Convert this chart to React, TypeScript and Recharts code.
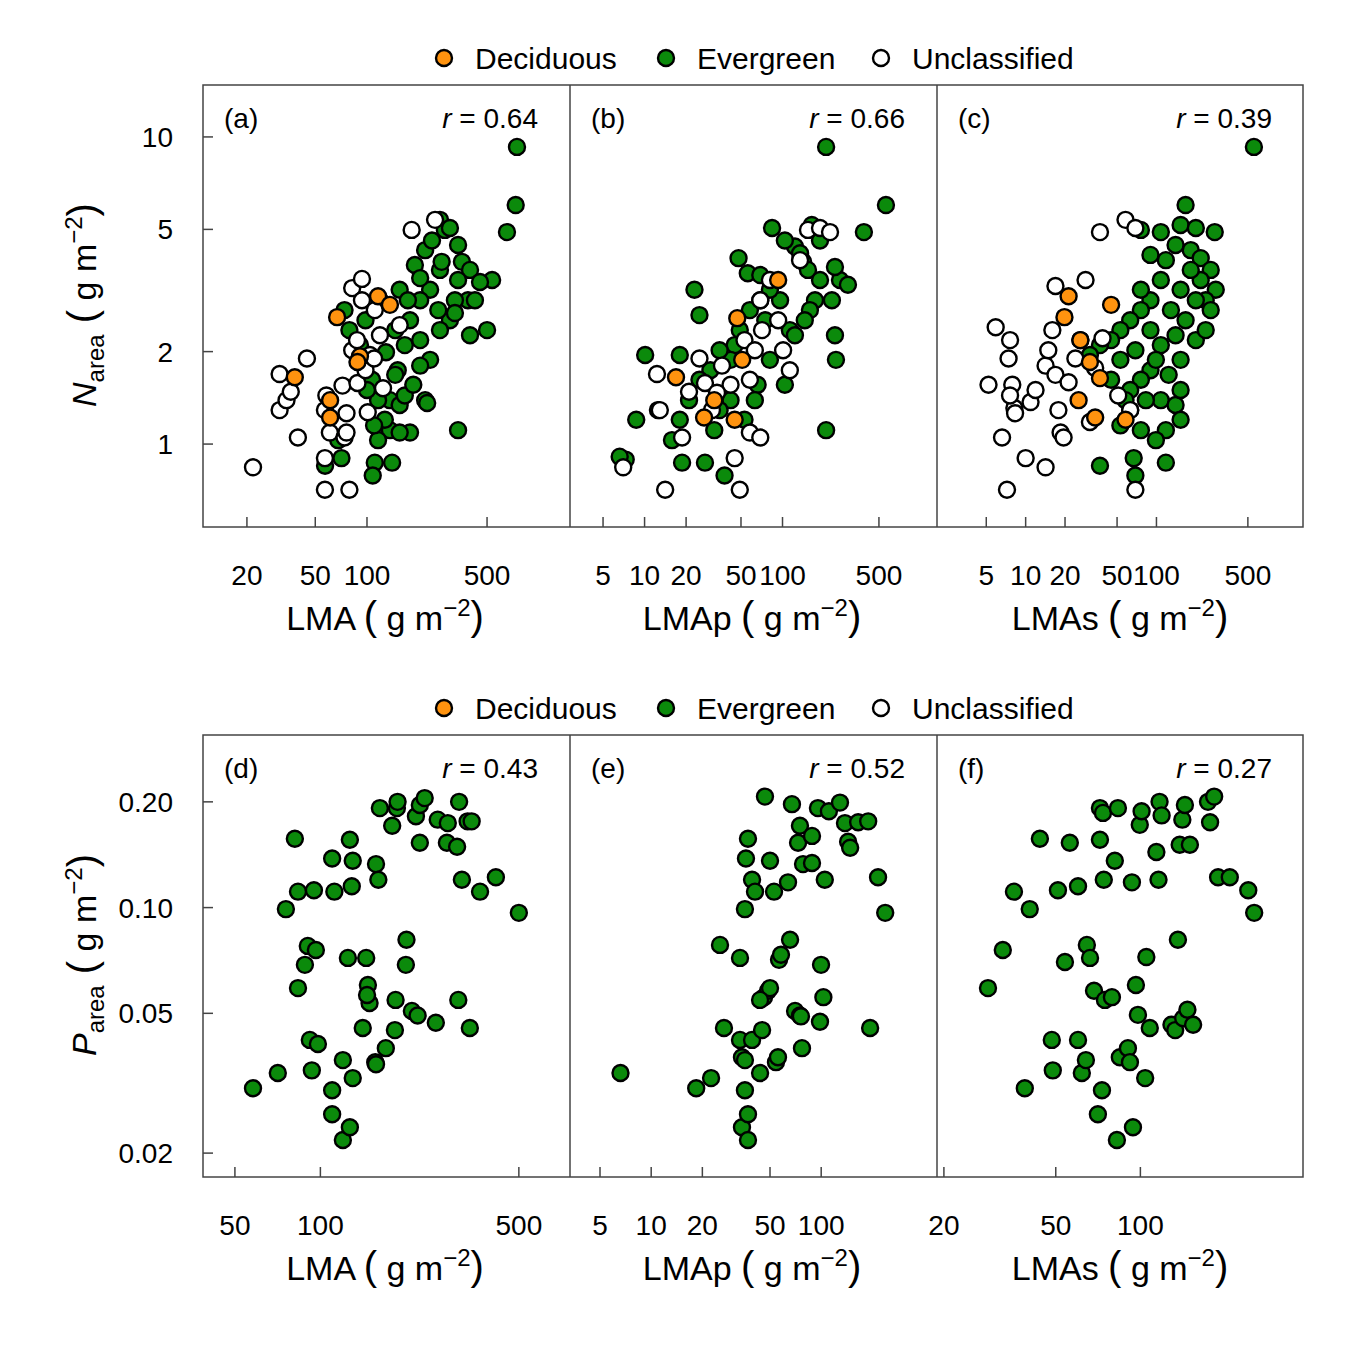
import React from "react"
import { ScatterChart, Scatter, XAxis, YAxis } from "recharts"

type P = [number, number]

// ---- top row: N area (y) vs LMA / LMAp / LMAs (x) ----
const aUnclassified: P[] = [[21.7,0.84],[31,1.69],[31,1.29],[34,1.39],[36,1.48],[39.6,1.05],[44.7,1.9],[56.9,1.29],[56.9,0.9],[56.9,0.71],[58,1.44],[60.8,1.09],[72,1.55],[74,1.05],[76,1.09],[76,1.26],[82,3.22],[82,2.02],[87.5,2.18],[88,1.58],[93.5,3.45],[93.5,2.94],[98,1.74],[101,1.27],[104,1.95],[110,1.9],[111,2.73],[119,2.26],[124,1.52],[155,2.44],[182,4.98],[249,5.37],[79,0.71]]
const aDeciduous: P[] = [[38,1.65],[61,1.39],[61,1.22],[67,2.59],[91,1.93],[116,3.03],[136,2.84],[88,1.85]]
const aEvergreen: P[] = [[747,9.28],[734,6.0],[653,4.9],[500,2.35],[535,3.42],[339,1.11],[218,1.39],[266,5.37],[284,4.98],[304,5.05],[339,4.45],[357,3.92],[398,3.69],[455,3.37],[387,2.94],[325,2.94],[304,2.53],[339,3.42],[266,3.69],[233,3.18],[218,4.28],[190,3.83],[204,2.94],[178,2.53],[155,3.18],[166,2.1],[151,1.74],[136,1.39],[136,1.11],[116,1.03],[111,0.87],[140,0.87],[127,1.2],[178,1.09],[155,1.34],[107,1.62],[93,1.88],[91,2.1],[98,2.53],[119,2.94],[146,2.35],[204,2.18],[233,1.88],[266,2.35],[204,1.8],[166,1.44],[146,1.68],[110,1.15],[116,1.39],[74,2.73],[79,2.35],[68,1.03],[57,0.85],[71,0.9],[108,0.79],[155,1.09],[224,1.36],[186,1.56],[260,2.73],[398,2.26],[325,2.67],[425,2.94],[272,3.92],[239,4.6],[204,3.47],[173,2.94],[129,1.99],[100,1.5]]

const bUnclassified: P[] = [[7.0,0.84],[12.3,1.69],[12.9,1.29],[14.1,0.71],[18.7,1.05],[21,1.48],[25,1.9],[27.4,1.58],[30.8,1.29],[36.4,1.8],[42,1.56],[49,0.71],[45,0.9],[58,1.09],[53,2.18],[63,2.02],[71,2.35],[69,2.94],[81,3.42],[93,2.53],[101,2.02],[113,1.74],[134,3.97],[153,4.98],[187,5.05],[221,4.9],[58,1.62],[33.5,1.47],[69,1.05]]
const bDeciduous: P[] = [[16.9,1.65],[32,1.39],[45,1.2],[47,2.57],[51,1.88],[93,3.42],[27,1.22]]
const bEvergreen: P[] = [[207,9.28],[562,6.0],[389,4.9],[207,1.11],[84,5.05],[123,4.4],[134,4.18],[141,3.92],[153,3.69],[187,3.42],[172,2.94],[158,2.73],[145,2.53],[113,2.35],[96,2.94],[81,3.18],[69,2.94],[58,2.73],[75,2.53],[49,2.35],[45,2.1],[42,1.88],[35,2.02],[30,1.74],[25,1.62],[21,1.39],[18,1.2],[15.8,1.03],[12.5,1.29],[10.1,1.95],[8.7,1.2],[7.3,0.89],[6.6,0.91],[18.7,0.87],[27.4,0.87],[38,0.79],[25,2.63],[23,3.18],[18,1.95],[56,3.6],[69,3.55],[104,4.6],[48,4.03],[66,1.56],[81,1.88],[104,1.56],[123,2.26],[240,2.26],[228,2.94],[261,3.42],[298,3.3],[240,3.77],[187,4.6],[163,5.17],[244,1.88],[32,1.11],[63,1.39],[53,1.2],[42,1.39],[35,1.29]]

const cUnclassified: P[] = [[5.2,1.56],[5.9,2.4],[6.6,1.05],[7.4,1.9],[7.6,2.18],[7.9,1.56],[8.2,1.31],[7.6,1.44],[8.3,1.26],[10,0.9],[10.9,1.37],[11.9,1.5],[14.2,0.84],[14.2,1.8],[14.9,2.02],[16,2.35],[16.9,1.68],[17.8,1.29],[18.5,1.09],[19.5,1.05],[21.3,1.59],[24,1.9],[26.2,2.18],[28.7,3.42],[31,1.18],[34,1.77],[37,4.9],[38.7,2.21],[51,1.44],[58,5.37],[63,1.29],[69,5.05],[7.2,0.71],[69,0.71],[16.9,3.27]]
const cDeciduous: P[] = [[19.8,2.59],[21.3,3.03],[25.4,1.39],[31,1.85],[34,1.22],[45,2.84],[26.2,2.18],[58,1.2],[37,1.64]]
const cEvergreen: P[] = [[556,9.28],[167,6.0],[279,4.9],[108,4.9],[153,5.17],[200,5.05],[76,4.98],[90,4.13],[118,3.97],[140,4.45],[183,4.28],[218,4.03],[260,3.69],[284,3.18],[238,2.94],[200,2.94],[153,3.18],[129,2.73],[108,3.42],[90,2.94],[76,2.73],[63,2.53],[53,2.35],[45,2.18],[37,2.1],[31,1.95],[53,1.88],[69,2.02],[90,2.35],[108,2.1],[140,2.26],[167,2.53],[200,2.18],[238,2.35],[260,2.73],[90,1.74],[76,1.62],[63,1.5],[108,1.39],[140,1.34],[153,1.2],[118,1.11],[99,1.03],[76,1.11],[63,1.29],[53,1.15],[45,1.62],[37,0.85],[67,0.9],[69,0.79],[118,0.87],[153,1.5],[99,1.88],[83,1.39],[58,1.39],[218,3.42],[183,3.69],[76,3.18],[153,1.88],[124,1.68]]

// ---- bottom row: P area (y), all evergreen ----
const dEvergreen: P[] = [[57.9,0.0306],[70.8,0.0338],[75.6,0.099],[81.3,0.157],[83.4,0.111],[88.2,0.0687],[90.3,0.0778],[91.8,0.042],[93.3,0.0344],[94.9,0.112],[96.4,0.0757],[98,0.0409],[83.4,0.059],[110,0.138],[112,0.111],[110,0.0302],[110,0.0258],[120,0.0368],[120,0.0218],[125,0.0719],[127,0.0237],[129,0.115],[130,0.136],[130,0.0327],[127,0.156],[141,0.0454],[145,0.0719],[147,0.0602],[149,0.0535],[146,0.0564],[156,0.0363],[157,0.133],[160,0.12],[157,0.0358],[162,0.192],[170,0.0398],[179,0.171],[183,0.0448],[184,0.0546],[186,0.192],[187,0.2],[200,0.0687],[201,0.081],[210,0.0508],[217,0.182],[220,0.0493],[224,0.196],[224,0.153],[233,0.205],[255,0.047],[259,0.178],[279,0.153],[281,0.174],[303,0.149],[306,0.0546],[308,0.2],[315,0.12],[330,0.176],[341,0.176],[336,0.0454],[365,0.111],[415,0.122],[500,0.0966]]
const eEvergreen: P[] = [[6.6,0.0338],[18.4,0.0306],[22.5,0.0327],[25.4,0.0783],[26.8,0.0454],[33.3,0.0719],[33.3,0.042],[34.2,0.0375],[35.6,0.0302],[35.6,0.0368],[34.2,0.0237],[37.1,0.0258],[37.1,0.0218],[36.1,0.138],[37.1,0.157],[39.2,0.12],[40.8,0.111],[35.6,0.099],[39.2,0.042],[43.7,0.0338],[44.9,0.0448],[46.1,0.0556],[48.7,0.058],[50,0.059],[46.7,0.207],[50,0.136],[52.8,0.111],[54.2,0.0363],[55.7,0.0375],[56.5,0.071],[58,0.0734],[63.8,0.118],[65.6,0.081],[67.3,0.197],[70.2,0.0508],[73.1,0.153],[75,0.0493],[76,0.049],[77.1,0.0398],[75,0.171],[78.2,0.133],[88.3,0.16],[88.3,0.134],[95.7,0.192],[98.4,0.0473],[99.8,0.0687],[103,0.0556],[105,0.12],[111,0.188],[129,0.199],[138,0.174],[144,0.154],[148,0.148],[165,0.175],[189,0.176],[194,0.0454],[216,0.122],[238,0.0966],[43.7,0.0546]]
const fEvergreen: P[] = [[28.7,0.059],[32.4,0.0757],[35.5,0.111],[38.8,0.0306],[40.4,0.099],[43.9,0.157],[48.4,0.042],[48.8,0.0344],[50.9,0.112],[53.9,0.07],[56.1,0.153],[60,0.115],[60,0.042],[61.9,0.0338],[64,0.0368],[64.5,0.0783],[66.2,0.0719],[68.4,0.058],[70.6,0.0258],[71.8,0.192],[71.8,0.156],[73,0.0302],[73.6,0.186],[74.1,0.12],[74.8,0.0546],[79.2,0.0556],[81.1,0.136],[82.5,0.0218],[83.2,0.192],[84.5,0.0375],[90.3,0.0398],[91.8,0.0363],[93.3,0.118],[94.1,0.0237],[96.4,0.0602],[98,0.0495],[99.5,0.172],[101,0.188],[104,0.0327],[105,0.0723],[108,0.0454],[114,0.144],[116,0.12],[117,0.2],[119,0.183],[129,0.0464],[133,0.0448],[136,0.081],[138,0.151],[141,0.178],[142,0.0484],[144,0.196],[147,0.0512],[150,0.151],[154,0.0464],[174,0.2],[177,0.175],[183,0.207],[189,0.122],[208,0.122],[242,0.112],[254,0.0966]]

const topYTicks = [1, 2, 5, 10]
const bottomYTicks = [0.02, 0.05, 0.1, 0.2]
const bottomYLabels = ["0.02", "0.05", "0.10", "0.20"]

const GREEN = "#0b8a0b"
const ORANGE = "#ff930f"
const FONT = "'Liberation Sans', Arial, sans-serif"

const toPts = (arr: P[]) => arr.map(([x, y]) => ({ x, y }))

const dot = (fill: string) => (p: any) => (
  <circle cx={p.cx} cy={p.cy} r={8} fill={fill} stroke="#000" strokeWidth={2.4} />
)

type PanelProps = {
  left: number
  top: number
  xDomain: [number, number]
  yDomain: [number, number]
  xTicks: number[]
  yTicks?: number[]
  yLabels?: string[]
  green: P[]
  orange?: P[]
  white?: P[]
}

const PW = 367
const PH = 442
const YW = 110

function Panel({ left, top, xDomain, yDomain, xTicks, yTicks, yLabels, green, orange, white }: PanelProps) {
  const xTick = (p: any) => (
    <g>
      <line x1={p.x} x2={p.x} y1={p.y} y2={p.y - 10} stroke="#444" strokeWidth={1.5} />
      <text x={p.x} y={p.y + 58} textAnchor="middle" fontSize={28} fontFamily={FONT} fill="#000">
        {p.payload.value}
      </text>
    </g>
  )
  const yTick = (p: any) => {
    const i = yTicks ? yTicks.indexOf(p.payload.value) : -1
    const label = yLabels && i >= 0 ? yLabels[i] : String(p.payload.value)
    return (
      <g>
        <line x1={p.x} x2={p.x + 10} y1={p.y} y2={p.y} stroke="#444" strokeWidth={1.5} />
        <text x={p.x - 30} y={p.y + 10} textAnchor="end" fontSize={28} fontFamily={FONT} fill="#000">
          {label}
        </text>
      </g>
    )
  }
  return (
    <div style={{ position: "absolute", left: left - YW, top }}>
      <ScatterChart width={PW + YW} height={PH + 80} margin={{ top: 0, right: 0, bottom: 0, left: 0 }}>
        <XAxis
          type="number"
          dataKey="x"
          scale="log"
          domain={xDomain}
          allowDataOverflow
          ticks={xTicks}
          tick={xTick}
          tickLine={false}
          axisLine={false}
          tickSize={0}
          tickMargin={0}
          height={80}
          interval={0}
        />
        <YAxis
          type="number"
          dataKey="y"
          scale="log"
          domain={yDomain}
          allowDataOverflow
          ticks={yTicks || []}
          tick={yTicks ? yTick : false}
          tickLine={false}
          axisLine={false}
          tickSize={0}
          tickMargin={0}
          width={YW}
          interval={0}
        />
        <Scatter data={toPts(green)} shape={dot(GREEN)} isAnimationActive={false} />
        {white && <Scatter data={toPts(white)} shape={dot("#fff")} isAnimationActive={false} />}
        {orange && <Scatter data={toPts(orange)} shape={dot(ORANGE)} isAnimationActive={false} />}
      </ScatterChart>
    </div>
  )
}

function Unit({ x, y, name }: { x: number; y: number; name: string }) {
  return (
    <text x={x} y={y} textAnchor="middle" fontSize={34} fontFamily={FONT}>
      {name} <tspan fontSize={40}>(</tspan> g m
      <tspan dy={-14} fontSize={24}>−2</tspan>
      <tspan dy={14} fontSize={40}>)</tspan>
    </text>
  )
}

function Legend({ y }: { y: number }) {
  const items = [
    { c: ORANGE, x: 444, t: "Deciduous" },
    { c: GREEN, x: 666, t: "Evergreen" },
    { c: "#fff", x: 881, t: "Unclassified" },
  ]
  return (
    <g>
      {items.map((it) => (
        <g key={it.t}>
          <circle cx={it.x} cy={y} r={8} fill={it.c} stroke="#000" strokeWidth={2.4} />
          <text x={it.x + 31} y={y + 11} fontSize={30} fontFamily={FONT}>{it.t}</text>
        </g>
      ))}
    </g>
  )
}

const labelsTop = [
  { x: 203, l: "(a)", r: "0.64" },
  { x: 570, l: "(b)", r: "0.66" },
  { x: 937, l: "(c)", r: "0.39" },
]
const labelsBottom = [
  { x: 203, l: "(d)", r: "0.43" },
  { x: 570, l: "(e)", r: "0.52" },
  { x: 937, l: "(f)", r: "0.27" },
]

export default function App() {
  const tY: [number, number] = [0.537, 14.76]
  const bY: [number, number] = [0.0171, 0.31]
  return (
    <div style={{ position: "absolute", left: 0, top: 0, width: 1346, height: 1346, background: "#fff" }}>
      <Panel left={203} top={85} xDomain={[11.1, 1520]} yDomain={tY} xTicks={[20, 50, 100, 500]} yTicks={topYTicks} green={aEvergreen} orange={aDeciduous} white={aUnclassified} />
      <Panel left={570} top={85} xDomain={[2.88, 1318]} yDomain={tY} xTicks={[5, 10, 20, 50, 100, 500]} green={bEvergreen} orange={bDeciduous} white={bUnclassified} />
      <Panel left={937} top={85} xDomain={[2.1, 1343]} yDomain={tY} xTicks={[5, 10, 20, 50, 100, 500]} green={cEvergreen} orange={cDeciduous} white={cUnclassified} />
      <Panel left={203} top={735} xDomain={[38.6, 757]} yDomain={bY} xTicks={[50, 100, 500]} yTicks={bottomYTicks} yLabels={bottomYLabels} green={dEvergreen} />
      <Panel left={570} top={735} xDomain={[3.33, 480]} yDomain={bY} xTicks={[5, 10, 20, 50, 100]} green={eEvergreen} />
      <Panel left={937} top={735} xDomain={[18.9, 382]} yDomain={bY} xTicks={[20, 50, 100]} green={fEvergreen} />
      <svg width={1346} height={1346} style={{ position: "absolute", left: 0, top: 0, pointerEvents: "none" }}>
        {[85, 735].map((t) => (
          <g key={t}>
            <rect x={203} y={t} width={1100} height={442} fill="none" stroke="#444" strokeWidth={1.5} />
            <line x1={570} x2={570} y1={t} y2={t + 442} stroke="#444" strokeWidth={1.5} />
            <line x1={937} x2={937} y1={t} y2={t + 442} stroke="#444" strokeWidth={1.5} />
          </g>
        ))}
        {[{ y: 128, L: labelsTop }, { y: 778, L: labelsBottom }].map(({ y, L }) =>
          L.map((p) => (
            <g key={p.l}>
              <text x={p.x + 21} y={y} fontSize={28} fontFamily={FONT}>{p.l}</text>
              <text x={p.x + 335} y={y} textAnchor="end" fontSize={28} fontFamily={FONT}>
                <tspan fontStyle="italic">r</tspan> = {p.r}
              </text>
            </g>
          ))
        )}
        <Legend y={58} />
        <Legend y={708} />
        <Unit x={385} y={630} name="LMA" />
        <Unit x={752} y={630} name="LMAp" />
        <Unit x={1120} y={630} name="LMAs" />
        <Unit x={385} y={1280} name="LMA" />
        <Unit x={752} y={1280} name="LMAp" />
        <Unit x={1120} y={1280} name="LMAs" />
        <g transform="translate(96,305) rotate(-90)">
          <text textAnchor="middle" fontSize={34} fontFamily={FONT}>
            <tspan fontStyle="italic">N</tspan>
            <tspan dy={8} fontSize={24}>area</tspan>
            <tspan dy={-8} fontSize={40}> (</tspan> g m
            <tspan dy={-14} fontSize={24}>−2</tspan>
            <tspan dy={14} fontSize={40}>)</tspan>
          </text>
        </g>
        <g transform="translate(96,955) rotate(-90)">
          <text textAnchor="middle" fontSize={34} fontFamily={FONT}>
            <tspan fontStyle="italic">P</tspan>
            <tspan dy={8} fontSize={24}>area</tspan>
            <tspan dy={-8} fontSize={40}> (</tspan> g m
            <tspan dy={-14} fontSize={24}>−2</tspan>
            <tspan dy={14} fontSize={40}>)</tspan>
          </text>
        </g>
      </svg>
    </div>
  )
}
